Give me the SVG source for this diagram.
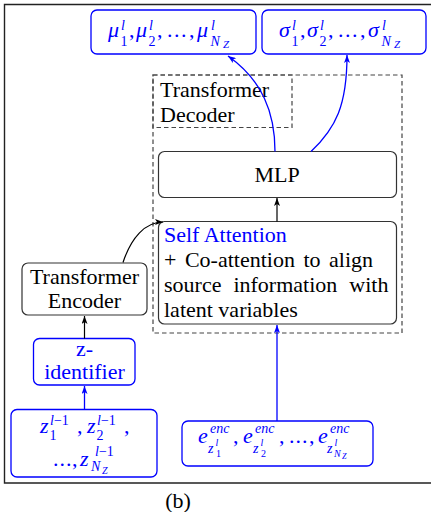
<svg xmlns="http://www.w3.org/2000/svg" width="431" height="512" viewBox="0 0 431 512">
<defs>
<style>
.t{font-family:"Liberation Serif","Times New Roman",serif;font-size:22px;fill:#000}
.tb{font-family:"Liberation Serif","Times New Roman",serif;font-size:22px;fill:#0000ff}
.m{font-family:"Liberation Serif","Times New Roman",serif;fill:#0000ff;font-size:22px}
.i{font-style:italic}
.s{font-size:14px}
.ss{font-size:10px}
.bx{fill:#fff;stroke:#333;stroke-width:1.2}
.bb{fill:#fff;stroke:#0000ff;stroke-width:1.3}
.dash{fill:none;stroke:#444;stroke-width:1.2;stroke-dasharray:4.5 3}
.ck{fill:none;stroke:#000;stroke-width:1.2}
.cb{fill:none;stroke:#0000ff;stroke-width:1.3}
</style>
<marker id="ak" viewBox="0 0 8 6" refX="8" refY="3" markerWidth="8" markerHeight="6" markerUnits="userSpaceOnUse" orient="auto"><path d="M0,0 L8,3 L0,6 L2,3 Z" fill="#000"/></marker>
<marker id="ab" viewBox="0 0 8 6" refX="8" refY="3" markerWidth="8" markerHeight="6" markerUnits="userSpaceOnUse" orient="auto"><path d="M0,0 L8,3 L0,6 L2,3 Z" fill="#0000ff"/></marker>
</defs>
<rect width="431" height="512" fill="#fff"/>
<path d="M431,4.5 H4.5 V483 H431" fill="none" stroke="#222" stroke-width="1.4"/>

<g id="decoder">
<rect class="dash" x="153" y="75" width="249" height="258"/>
<rect class="dash" x="153" y="75" width="139" height="52.5"/>
<text class="t" x="160" y="97">Transformer</text>
<text class="t" x="160" y="122">Decoder</text>
</g>

<g id="mu">
<rect class="bb" x="91" y="10" width="165" height="44" rx="6"/>
<text class="m">
<tspan class="i" x="108" y="37">μ</tspan><tspan class="i s" x="121" y="30">l</tspan><tspan class="s" x="120.5" y="45.5">1</tspan><tspan x="129" y="37">,</tspan>
<tspan class="i" x="136" y="37">μ</tspan><tspan class="i s" x="149" y="30">l</tspan><tspan class="s" x="148.5" y="45.5">2</tspan><tspan x="157" y="37">,</tspan>
<tspan x="167" y="37" letter-spacing="1.5">...</tspan><tspan x="189" y="37">,</tspan>
<tspan class="i" x="197" y="37">μ</tspan><tspan class="i s" x="211" y="30">l</tspan><tspan class="i s" x="210.5" y="45.5">N</tspan><tspan class="i" font-size="11" x="223" y="48">Z</tspan>
</text>
</g>

<g id="sigma">
<rect class="bb" x="262" y="10" width="164" height="44" rx="6"/>
<text class="m">
<tspan class="i" x="279" y="37">σ</tspan><tspan class="i s" x="292" y="30">l</tspan><tspan class="s" x="291.5" y="45.5">1</tspan><tspan x="300" y="37">,</tspan>
<tspan class="i" x="307" y="37">σ</tspan><tspan class="i s" x="320" y="30">l</tspan><tspan class="s" x="319.5" y="45.5">2</tspan><tspan x="328" y="37">,</tspan>
<tspan x="338" y="37" letter-spacing="1.5">...</tspan><tspan x="360" y="37">,</tspan>
<tspan class="i" x="368" y="37">σ</tspan><tspan class="i s" x="382" y="30">l</tspan><tspan class="i s" x="381.5" y="45.5">N</tspan><tspan class="i" font-size="11" x="394" y="48">Z</tspan>
</text>
</g>

<g id="mlp">
<rect class="bx" x="158.5" y="151.5" width="238" height="46" rx="6"/>
<text class="t" x="277" y="182" text-anchor="middle">MLP</text>
</g>

<g id="attention">
<rect class="bx" x="158.5" y="221.5" width="238" height="102.5" rx="6"/>
<text class="tb" x="164" y="242">Self Attention</text>
<text class="t" x="164" y="267" word-spacing="3">+ Co-attention to align</text>
<text class="t" x="164" y="292" word-spacing="6.5">source information with</text>
<text class="t" x="164" y="317">latent variables</text>
</g>

<g id="encoder">
<rect class="bx" x="22" y="263" width="125" height="52" rx="6"/>
<text class="t" x="84.5" y="284" text-anchor="middle">Transformer</text>
<text class="t" x="84.5" y="308" text-anchor="middle">Encoder</text>
</g>

<g id="zid">
<rect class="bb" x="33.5" y="338.5" width="101.5" height="46.5" rx="6"/>
<text class="tb" x="84.5" y="356" text-anchor="middle">z-</text>
<text class="tb" x="84.5" y="379" text-anchor="middle">identifier</text>
</g>

<g id="zprev">
<rect class="bb" x="11" y="409.5" width="146" height="67.5" rx="6"/>
<text class="m">
<tspan class="i" x="40" y="433">z</tspan><tspan class="s" x="50" y="425"><tspan class="i">l</tspan>−1</tspan><tspan class="s" x="49.5" y="439.5">1</tspan><tspan x="77" y="433">,</tspan>
<tspan class="i" x="87" y="433">z</tspan><tspan class="s" x="97" y="425"><tspan class="i">l</tspan>−1</tspan><tspan class="s" x="96.5" y="439.5">2</tspan><tspan x="124" y="433">,</tspan>
<tspan x="53" y="466" letter-spacing="1">...</tspan><tspan x="72" y="466">,</tspan>
<tspan class="i" x="80" y="466">z</tspan><tspan class="s" x="95" y="456"><tspan class="i">l</tspan>−1</tspan><tspan class="i s" x="91" y="471">N</tspan><tspan class="i ss" x="102" y="474">Z</tspan>
</text>
</g>

<g id="enc">
<rect class="bb" x="182" y="421" width="191" height="45" rx="6"/>
<text class="m">
<tspan class="i" x="198" y="443">e</tspan><tspan class="i s" x="210" y="433">enc</tspan><tspan class="i s" x="208" y="453">z</tspan><tspan class="i ss" x="215.5" y="446">l</tspan><tspan class="ss" x="216" y="457">1</tspan><tspan x="233" y="443">,</tspan>
<tspan class="i" x="243" y="443">e</tspan><tspan class="i s" x="255" y="433">enc</tspan><tspan class="i s" x="253" y="453">z</tspan><tspan class="i ss" x="260.5" y="446">l</tspan><tspan class="ss" x="261" y="457">2</tspan><tspan x="279" y="443">,</tspan>
<tspan x="289" y="443" letter-spacing="1">...</tspan><tspan x="309" y="443">,</tspan>
<tspan class="i" x="318" y="443">e</tspan><tspan class="i s" x="330" y="433">enc</tspan><tspan class="i s" x="327" y="453">z</tspan><tspan class="i ss" x="334.5" y="446">l</tspan><tspan class="i ss" x="334" y="457">N</tspan><tspan class="i" font-size="8" x="342" y="459">Z</tspan>
</text>
</g>

<g id="connectors">
<path class="ck" d="M84.5,338.5 V316" marker-end="url(#ak)"/>
<path class="cb" d="M84.5,409.5 V386" marker-end="url(#ab)"/>
<path class="ck" d="M123,262.5 C131,238 145,222 163,222" marker-end="url(#ak)"/>
<path class="ck" d="M277,221.5 V198" marker-end="url(#ak)"/>
<path class="cb" d="M277,421 V325" marker-end="url(#ab)"/>
<path class="cb" d="M275,151.5 C275,112 262,80 228,56" marker-end="url(#ab)"/>
<path class="cb" d="M311,151.5 C336,128 347,105 347,55" marker-end="url(#ab)"/>
</g>

<text class="t" x="178" y="508" text-anchor="middle">(b)</text>
</svg>
